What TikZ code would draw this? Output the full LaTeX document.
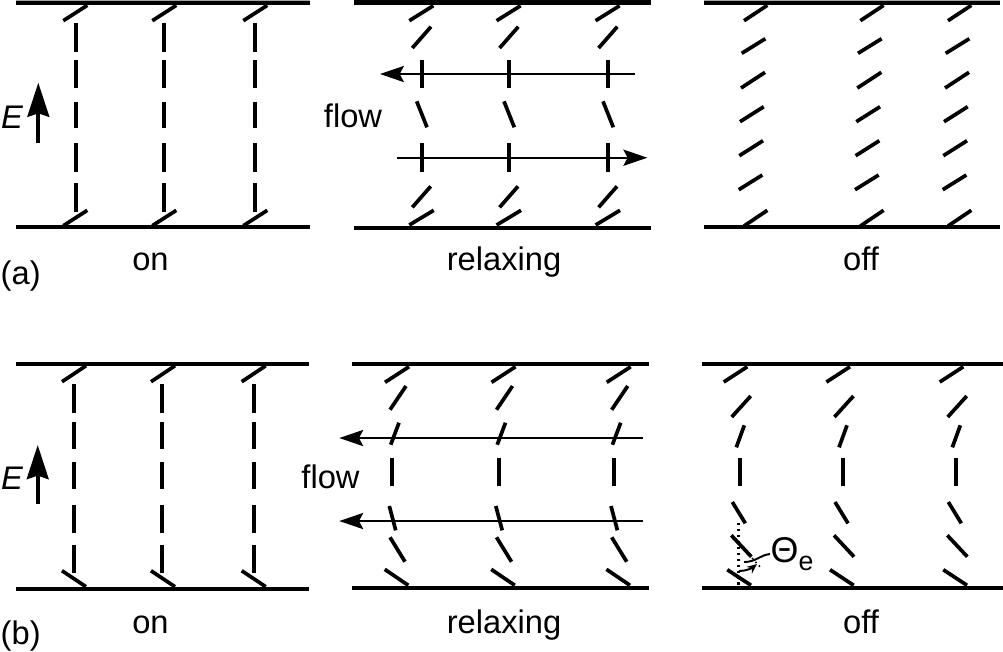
\documentclass[tikz,border=0pt]{standalone}
\usepackage{fontspec}
\setmainfont{Liberation Sans}
\usetikzlibrary{arrows.meta}
\tikzset{
	plate/.style={line width=1.1pt, color=black},
	rod/.style={line width=1.05pt, color=black},
	flowline/.style={line width=0.6pt, -{Stealth[length=6.8pt, width=4.6pt, inset=1.2pt]}},
	fieldline/.style={line width=1.05pt, -{Stealth[length=9.7pt, width=6.2pt, inset=1pt]}},
	tag/.style={inner sep=0pt, anchor=base, font=\fontsize{9.3}{11}\selectfont},
}

\begin{document}
\begin{tikzpicture}
			%%%%% TOP ROW %%%%%
			\useasboundingbox (0, 0) rectangle (10.03, -6.51);
			
			\fill[color=black!35] (0.16, 0) rectangle (3.10, -0.02);
			\fill[color=black!35] (7.04, 0) rectangle (10.0, -0.02);
			\draw[plate] (0.16, -0.03) -- (3.10, -0.03);
			\draw[plate] (0.16, -2.27) -- (3.10, -2.27);
			
			\foreach \dx in {0, 0.89, 1.80} {
				\draw[rod] (0.633+\dx, -0.207) -- (0.873+\dx, -0.053);
				\draw[rod] (0.633+\dx, -2.257) -- (0.873+\dx, -2.103);
			}
			\foreach \x in {0.757, 1.637, 2.553}
				\foreach \ya/\yb in {0.233/0.517, 0.60/0.883, 1.017/1.283, 1.433/1.717, 1.833/2.117}
					\draw[rod] (\x, -\ya) -- (\x, -\yb);
			
			\node[tag, anchor=base west] (fielda) at (0.005, -1.283) {\itshape E};
			\coordinate (fieldatail) at (0.383, -1.427);
			\coordinate (fieldatip) at (0.383, -0.827);
			\draw[fieldline] (fieldatail) -- (fieldatip);
			\node[tag] (ona) at (1.505, -2.707) {on};
			\node[tag, anchor=base west] (panela) at (0.0, -2.845) {(a)};
			
			\fill (3.54, 0) rectangle (6.507, -0.045);
			\draw[plate] (3.54, -2.277) -- (6.507, -2.277);
			\foreach \dx in {0, 0.873, 1.863}
				\foreach \xa/\ya/\xb/\yb in {4.093/0.207/4.333/0.057, 4.123/0.48/4.31/0.267, 4.217/0.60/4.217/0.877, 4.167/1.013/4.27/1.273, 4.217/1.433/4.217/1.72, 4.123/2.073/4.307/1.863, 4.093/2.25/4.337/2.103}
					\draw[rod] (\xa+\dx, -\ya) -- (\xb+\dx, -\yb);
			
			\coordinate (flowatail) at (6.35, -0.74);
			\coordinate (flowatip) at (3.80, -0.74);
			\draw[flowline] (flowatail) -- (flowatip);
			\coordinate (flowbtail) at (3.973, -1.577);
			\coordinate (flowbtip) at (6.473, -1.577);
			\draw[flowline] (flowbtail) -- (flowbtip);
			\node[tag] (flowa) at (3.53, -1.27) {flow};
			\node[tag] (relaxa) at (5.04, -2.707) {relaxing};
			
			\draw[plate] (7.04, -0.03) -- (10.0, -0.03);
			\draw[plate] (7.04, -2.273) -- (10.0, -2.273);
			\foreach \dx in {0, 1.163, 2.04}
				\foreach \xa/\ya/\xb/\yb in {7.44/0.207/7.673/0.053, 7.417/0.533/7.653/0.387, 7.41/0.88/7.65/0.723, 7.40/1.217/7.637/1.067, 7.393/1.557/7.63/1.407, 7.387/1.897/7.623/1.75, 7.44/2.26/7.673/2.103}
					\draw[rod] (\xa+\dx, -\ya) -- (\xb+\dx, -\yb);
			\node[tag] (offa) at (8.61, -2.707) {off};
			
			%%%%% BOTTOM ROW %%%%%
			
			\draw[plate] (0.157, -3.64) -- (3.09, -3.64);
			\draw[plate] (0.157, -5.887) -- (3.09, -5.887);
			\foreach \dx in {0, 0.89, 1.797} {
				\draw[rod] (0.62+\dx, -3.817) -- (0.86+\dx, -3.657);
				\draw[rod] (0.62+\dx, -5.707) -- (0.86+\dx, -5.867);
			}
			\foreach \x in {0.737, 1.623, 2.537}
				\foreach \ya/\yb in {3.843/4.127, 4.217/4.493, 4.617/4.893, 5.05/5.327, 5.45/5.727}
					\draw[rod] (\x, -\ya) -- (\x, -\yb);
			
			\node[tag, anchor=base west] (fieldb) at (0.005, -4.893) {\itshape E};
			\coordinate (fieldbtail) at (0.377, -5.04);
			\coordinate (fieldbtip) at (0.377, -4.45);
			\draw[fieldline] (fieldbtail) -- (fieldbtip);
			\node[tag] (onb) at (1.505, -6.33) {on};
			\node[tag, anchor=base west] (panelb) at (0.0, -6.445) {(b)};
			
			\draw[plate] (3.52, -3.64) -- (6.487, -3.64);
			\draw[plate] (3.52, -5.883) -- (6.487, -5.883);
			\foreach \dx in {0, 1.065, 2.217}
				\foreach \xa/\ya/\xb/\yb in {3.85/3.823/4.09/3.667, 3.90/4.097/4.06/3.86, 3.907/4.447/3.99/4.227, 3.923/4.58/3.923/4.863, 3.893/5.06/3.957/5.303, 3.90/5.373/4.05/5.617, 3.847/5.693/4.083/5.853}
					\draw[rod] (\xa+\dx, -\ya) -- (\xb+\dx, -\yb);
			
			\coordinate (flowctail) at (6.427, -4.38);
			\coordinate (flowctip) at (3.393, -4.38);
			\draw[flowline] (flowctail) -- (flowctip);
			\coordinate (flowdtail) at (6.43, -5.21);
			\coordinate (flowdtip) at (3.393, -5.21);
			\draw[flowline] (flowdtail) -- (flowdtip);
			\node[tag] (flowb) at (3.305, -4.883) {flow};
			\node[tag] (relaxb) at (5.04, -6.333) {relaxing};
			
			\draw[plate] (7.02, -3.64) -- (10.03, -3.64);
			\draw[plate] (7.02, -5.883) -- (10.03, -5.883);
			\foreach \dx in {0, 1.027, 2.16}
				\foreach \xa/\ya/\xb/\yb in {7.237/3.82/7.473/3.667, 7.317/4.17/7.507/3.96, 7.363/4.473/7.443/4.253, 7.40/4.577/7.40/4.86, 7.323/5.02/7.453/5.233, 7.313/5.353/7.513/5.567, 7.273/5.697/7.51/5.853}
					\draw[rod] (\xa+\dx, -\ya) -- (\xb+\dx, -\yb);
			
			\draw[line width=0.7pt, densely dotted] (7.383, -5.227) -- (7.383, -5.883);
			\draw[line width=0.45pt, densely dotted] (7.52, -5.58) -- (7.62, -5.69);
			\node[tag, anchor=base west] (angle) at (7.70, -5.627) {\fontsize{10.2}{11}\selectfont Θ\raisebox{-2.1pt}{\fontsize{7.6}{8}\selectfont e}};
			\draw[line width=0.55pt] (angle.west) .. controls (7.60, -5.55) and (7.56, -5.62) .. (7.44, -5.62);
			\draw[line width=0.55pt, -{Stealth[length=2.8pt, width=2.4pt]}] (7.39, -5.71) .. controls (7.46, -5.71) and (7.52, -5.68) .. (7.57, -5.64);
			
			\node[tag] (offb) at (8.61, -6.333) {off};
		\end{tikzpicture}
\end{document}
